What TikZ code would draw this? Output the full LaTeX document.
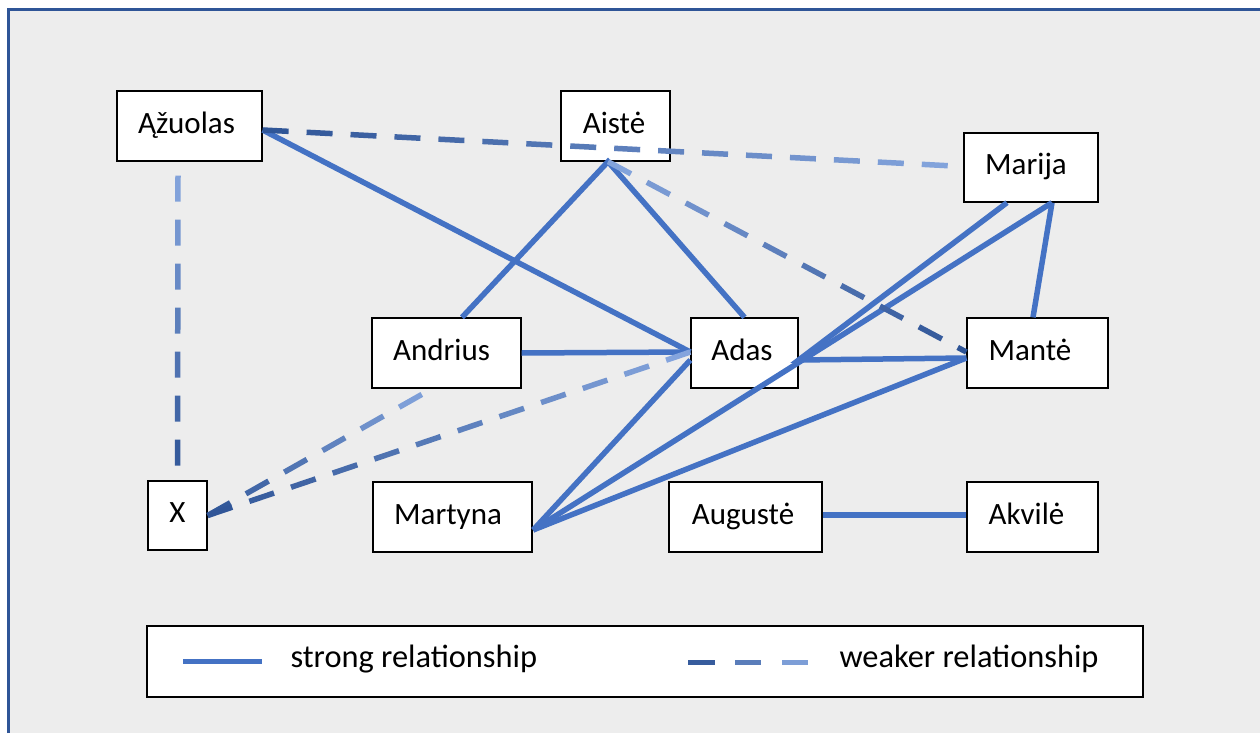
\documentclass[tikz,border=0pt]{standalone}
\usepackage{fontspec}
\setmainfont{Carlito}
\usetikzlibrary{calc}
\definecolor{strongc}{HTML}{4472C4}
\definecolor{darkw}{HTML}{2E5496}
\definecolor{lightw}{HTML}{86A6DE}
\definecolor{framec}{HTML}{2F5597}
\definecolor{bgc}{HTML}{EDEDED}
\tikzset{
  box/.style={draw=black, line width=1.3pt, fill=white, inner sep=0pt,
    text height=20pt, text depth=6pt, font=\fontsize{31pt}{37pt}\selectfont},
  strong/.style={draw=strongc, line width=5.5pt},
  weakdash/.style={line width=5.5pt},
  lbl/.style={anchor=base west, inner sep=0pt, font=\fontsize{32.4pt}{38pt}\selectfont},
}
% gradient dashed connector: from #1 to #2, colour #3 at start, #4 at end
\newcommand\wrel[4]{%
  \path let \p1=($(#2)-(#1)$), \n1={veclen(\x1,\y1)} in
    \pgfextra{\pgfmathsetmacro\wtmp{\n1}\xdef\wlen{\wtmp}};
  \pgfmathtruncatemacro\wnum{ceil(\wlen/44)-1}%
  \foreach \k in {0,...,\wnum}{%
    \pgfmathsetmacro\wa{\k*44/\wlen}%
    \pgfmathsetmacro\wb{min((\k*44+26)/\wlen,1)}%
    \pgfmathtruncatemacro\wc{max(0,min(100,100*(1-(\k*44+13)/\wlen)))}%
    \draw[weakdash, draw=#3!\wc!#4] ($(#1)!\wa!(#2)$) -- ($(#1)!\wb!(#2)$);
  }%
}
\begin{document}
\begin{tikzpicture}[x=1pt, y=-1pt]
\useasboundingbox (0,0) rectangle (1260,733);
\fill[white] (0,0) rectangle (1260,733);
\fill[bgc] (8.5,9.5) rectangle (1260,733);
\draw[framec, line width=3pt] (8.5,733) -- (8.5,9.5) -- (1260,9.5);

% nodes
\node[box, minimum width=145, minimum height=70] (Azuolas) at (189.5,126) {Ąžuolas\kern6pt};
\node[box, minimum width=109, minimum height=70] (Aiste) at (615.5,126) {Aistė\kern3pt};
\node[box, minimum width=134, minimum height=69] (Marija) at (1031,167.5) {Marija\kern10pt};
\node[box, minimum width=149, minimum height=70] (Andrius) at (446.5,353) {Andrius\kern10pt};
\node[box, minimum width=107, minimum height=70] (Adas) at (744.5,353) {Adas\kern5pt};
\node[box, minimum width=141, minimum height=70] (Mante) at (1037.5,353) {Mantė\kern15pt};
\node[box, minimum width=59, minimum height=69] (X) at (177.5,515.5) {X};
\node[box, minimum width=159, minimum height=70] (Martyna) at (452.5,517) {Martyna\kern9pt};
\node[box, minimum width=153, minimum height=70] (Auguste) at (745.5,517) {Augustė\kern5pt};
\node[box, minimum width=131, minimum height=70] (Akvile) at (1032.5,517) {Akvilė\kern12pt};

% connector end points
\coordinate (Az-e) at ($(Azuolas.east)+(0,4)$);
\coordinate (Az-s) at ($(Azuolas.south)+(-11.5,14)$);
\coordinate (Ai-s) at ($(Aiste.south)+(-7.5,0)$);
\coordinate (Ma-b1) at ($(Marija.south)+(-24,0)$);
\coordinate (Ma-b2) at ($(Marija.south)+(21,0)$);
\coordinate (Ma-w) at ($(Marija.west)+(0,-1)$);
\coordinate (Mt-n) at ($(Mante.north)+(-4.5,0)$);
\coordinate (Mt-w) at ($(Mante.west)+(0,-1)$);
\coordinate (Mt-w2) at ($(Mante.west)+(0,5)$);
\coordinate (Ad-e) at ($(Adas.east)+(0,7)$);
\coordinate (Ad-w) at ($(Adas.west)+(0,-1)$);
\coordinate (Ad-w2) at ($(Adas.west)+(0,7)$);
\coordinate (An-n) at ($(Andrius.north)+(15.5,0)$);
\coordinate (An-s) at ($(Andrius.south)+(-14.5,0)$);
\coordinate (Mr-e) at ($(Martyna.east)+(0.5,13)$);
\coordinate (X-e) at ($(X.east)+(0,0)$);

% strong relationships
\draw[strong] (Az-e) -- (Ad-w);
\draw[strong] (An-n) -- (Ai-s) -- (Adas.north);
\draw[strong] (Andrius.east) -- (Ad-w);
\draw[strong] (Mr-e) -- (Ad-w2);
\draw[strong] (Mr-e) -- (Ma-b2);
\draw[strong] (Mr-e) -- (Mt-w2);
\draw[strong] (Ma-b1) -- (Ad-e) -- (Mt-w2);
\draw[strong] (Ma-b2) -- (Mt-n);
\draw[strong] ($(Auguste.east)+(0,-2)$) -- ($(Akvile.west)+(0,-2)$);

% weaker relationships
\wrel{Az-e}{Ma-w}{darkw}{lightw}
\wrel{Az-s}{X.north}{lightw}{darkw}
\wrel{Ai-s}{Mt-w}{lightw}{darkw}
\wrel{X-e}{An-s}{darkw}{lightw}
\wrel{X-e}{Ad-w}{darkw}{lightw}

% legend
\node[draw=black, line width=1.3pt, fill=white, minimum width=996, minimum height=71, inner sep=0pt] (legend) at (645,661.5) {};
\coordinate (Ls1) at ($(legend.west)+(37,0)$);
\coordinate (Ls2) at ($(legend.west)+(116,0)$);
\draw[strong] (Ls1) -- (Ls2);
\node[lbl] (Lst) at ($(legend.west)+(144,5.5)$) {strong relationship};
\coordinate (Lw1) at ($(legend.west)+(542,1)$);
\draw[weakdash, draw=darkw!90!lightw] (Lw1) -- ++(27,0);
\draw[weakdash, draw=darkw!50!lightw] ($(Lw1)+(47,0)$) -- ++(26,0);
\draw[weakdash, draw=darkw!10!lightw] ($(Lw1)+(94,0)$) -- ++(26,0);
\node[lbl] (Lwt) at ($(legend.west)+(693,5.5)$) {weaker relationship};
\end{tikzpicture}
\end{document}
